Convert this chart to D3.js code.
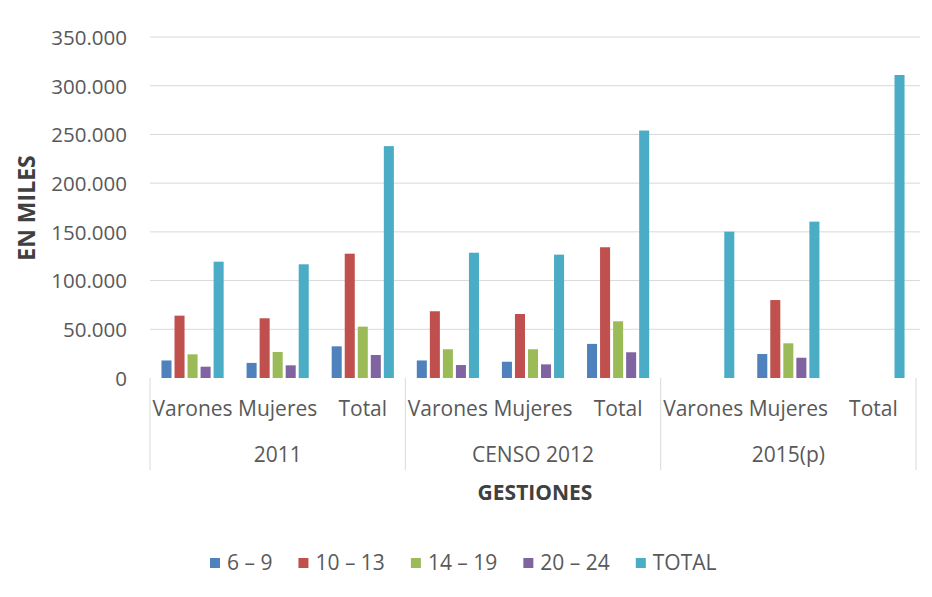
<!DOCTYPE html>
<html>
<head>
<meta charset="utf-8">
<script src="https://cdn.jsdelivr.net/npm/d3@7"></script>
<style>
  html, body { margin: 0; padding: 0; background: #ffffff; }
  svg { display: block; }
</style>
</head>
<body>
<svg id="chart" width="932" height="597"></svg>
<script>
// ---- data ----
const groups = ["2011", "CENSO 2012", "2015(p)"];
const subcategories = ["Varones", "Mujeres", "Total"];
const seriesNames = ["6 – 9", "10 – 13", "14 – 19", "20 – 24", "TOTAL"];
const seriesColors = ["#4F81BD", "#C0504D", "#9BBB59", "#8064A2", "#4BACC6"];
// values per series, in order: 2011 (V,M,T), CENSO 2012 (V,M,T), 2015(p) (V,M,T)
const s6_9   = [18000, 15500, 32500, 18000, 16700, 35000, null, 24600, null];
const s10_13 = [64000, 61300, 127600, 68500, 65700, 134200, null, 80000, null];
const s14_19 = [24300, 26700, 52700, 29500, 29500, 58200, null, 35600, null];
const s20_24 = [11600, 13000, 23600, 13300, 14000, 26400, null, 20800, null];
const sTOTAL = [119400, 116700, 238000, 128600, 126600, 254000, 150200, 160500, 311000];
const yTicks = [0, 50000, 100000, 150000, 200000, 250000, 300000, 350000];
const yTitle = "EN MILES";
const xTitle = "GESTIONES";

const seriesValues = [s6_9, s10_13, s14_19, s20_24, sTOTAL];

// ---- layout ----
const svg = d3.select("#chart");
const plotLeft = 150, plotRight = 916, plotTop = 37, plotBottom = 378;
const FONT = "'Open Sans', sans-serif";
const textColor = "#595959";

const cats = [];
groups.forEach(g => subcategories.forEach(s => cats.push(g + "|" + s)));

const x0 = d3.scaleBand().domain(cats).range([plotLeft, plotRight]).padding(0);
const x1 = d3.scaleBand().domain(seriesNames).range([0, x0.bandwidth()])
  .paddingInner(0.23).paddingOuter(0.88);
const xg = d3.scaleBand().domain(groups).range([plotLeft, plotRight]).padding(0);
const y = d3.scaleLinear().domain([0, 350000]).range([plotBottom, plotTop]);

const loc = d3.formatLocale({decimal: ",", thousands: ".", grouping: [3], currency: ["", ""]});
const fmt = loc.format(",d");

// gridlines
svg.append("g").selectAll("line").data(yTicks.filter(d => d > 0)).join("line")
  .attr("x1", plotLeft).attr("x2", 920)
  .attr("y1", d => y(d)).attr("y2", d => y(d))
  .attr("stroke", "#d9d9d9").attr("stroke-width", 1);

// y axis labels
const yAxis = d3.axisLeft(y).tickValues(yTicks).tickFormat(fmt).tickSize(0).tickPadding(0);
const yg = svg.append("g").attr("transform", `translate(127,0)`).call(yAxis);
yg.select(".domain").remove();
yg.selectAll("text").attr("font-family", FONT).attr("font-size", 20.5)
  .attr("fill", textColor).attr("dy", "0.36em");

// bars
const barData = [];
seriesValues.forEach((arr, si) => arr.forEach((v, ci) => {
  if (v != null) barData.push({cat: cats[ci], series: seriesNames[si], color: seriesColors[si], v});
}));
svg.append("g").selectAll("rect").data(barData).join("rect")
  .attr("x", d => x0(d.cat) + x1(d.series))
  .attr("width", x1.bandwidth())
  .attr("y", d => y(d.v))
  .attr("height", d => y(0) - y(d.v))
  .attr("fill", d => d.color);

// category separators
const sepX = groups.map(g => xg(g)).concat([plotRight]);
svg.append("g").selectAll("line").data(sepX).join("line")
  .attr("x1", d => d).attr("x2", d => d)
  .attr("y1", plotBottom).attr("y2", 470)
  .attr("stroke", "#d9d9d9").attr("stroke-width", 1);

// subcategory labels
svg.append("g").selectAll("text").data(cats).join("text")
  .attr("x", d => x0(d) + x0.bandwidth() / 2)
  .attr("y", 416)
  .attr("text-anchor", "middle")
  .attr("font-family", FONT).attr("font-size", 21).attr("fill", textColor)
  .text(d => d.split("|")[1]);

// group labels
svg.append("g").selectAll("text").data(groups).join("text")
  .attr("x", d => xg(d) + xg.bandwidth() / 2)
  .attr("y", 462)
  .attr("text-anchor", "middle")
  .attr("font-family", FONT).attr("font-size", 21).attr("fill", textColor)
  .text(d => d);

// axis titles
svg.append("text")
  .attr("x", 535).attr("y", 500)
  .attr("text-anchor", "middle")
  .attr("font-family", FONT).attr("font-size", 21).attr("font-weight", "bold")
  .attr("fill", "#404040").text(xTitle);
svg.append("text")
  .attr("transform", "translate(35,208) rotate(-90)")
  .attr("text-anchor", "middle")
  .attr("font-family", FONT).attr("font-size", 23).attr("font-weight", "bold")
  .attr("fill", "#404040").text(yTitle);

// legend
const lg = svg.append("g");
let lx = 210;
seriesNames.forEach((name, i) => {
  const item = lg.append("g").attr("transform", `translate(${lx},0)`);
  item.append("rect").attr("x", 0).attr("y", 558).attr("width", 10).attr("height", 10)
    .attr("fill", seriesColors[i]);
  const t = item.append("text").attr("x", 17).attr("y", 570)
    .attr("font-family", FONT).attr("font-size", 21).attr("fill", textColor).text(name);
  lx += 17 + t.node().getComputedTextLength() + 26;
});
</script>
</body>
</html>
